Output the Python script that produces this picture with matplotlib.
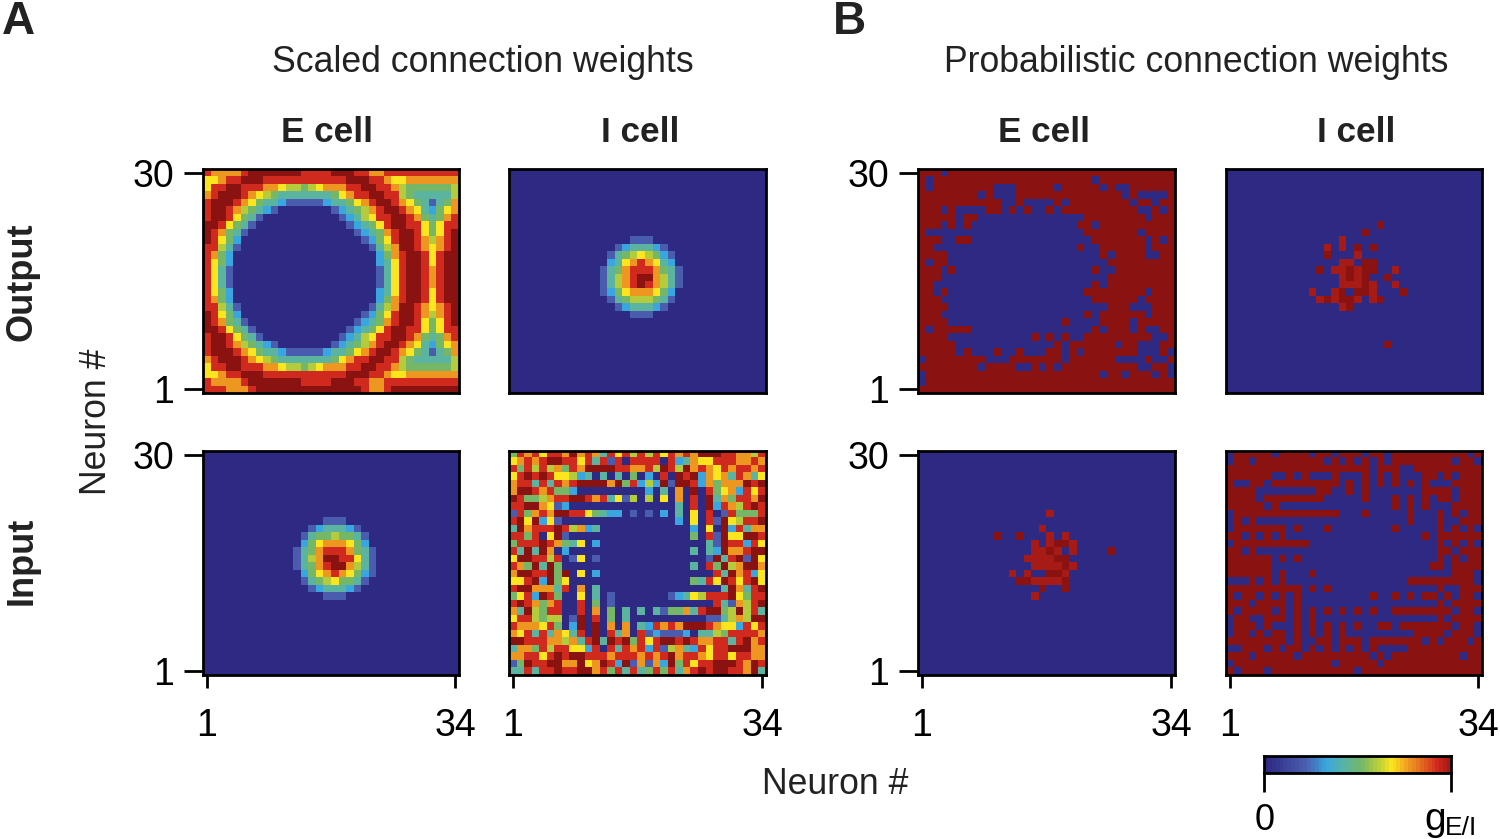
import numpy as np
import matplotlib
matplotlib.use('Agg')
import matplotlib.pyplot as plt
from matplotlib.colors import LinearSegmentedColormap

plt.rcParams['font.family'] = ['Liberation Sans', 'DejaVu Sans']

# cell values, one digit per cell (0 = none ... 9 = full), top row first
# r = the brighter red of the probabilistic panels
blank = "0000000000 0000000000 0000000000 0000"

scaled_e_output = [
    "8777789999 9998888999 8877888888 8888",
    "6678899988 8888888889 9988766777 7777",
    "6889988877 6554567778 8998875444 4445",
    "7899987654 3333333467 8899885433 3335",
    "8999876433 2111112334 6789987643 1347",
    "8998754321 0000000123 4578998763 2467",
    "8998643100 0000000012 3568899874 3478",
    "9986431000 0000000001 2346899886 4688",
    "9874310000 0000000000 1234789986 4689",
    "9864200000 0000000000 0124689987 5789",
    "8853100000 0000000000 0013579987 6789",
    "8742000000 0000000000 0002478998 6899",
    "8642000000 0000000000 0002368998 6899",
    "8631000000 0000000000 0001368998 7899",
    "8631000000 0000000000 0001368998 7899",
    "8631000000 0000000000 0001368998 7899",
    "8642000000 0000000000 0002368998 6899",
    "8742000000 0000000000 0002478998 6899",
    "8853100000 0000000000 0013579987 6789",
    "9864200000 0000000000 0124689987 5789",
    "9874310000 0000000000 1234789986 4689",
    "9986431000 0000000001 2346899886 4688",
    "8998643100 0000000012 3568899874 3478",
    "8998754321 0000000123 4578998763 2467",
    "8999876433 2111112334 6789987643 1347",
    "7899987654 3333333467 8899885433 3335",
    "6889988877 6554567778 8998875444 4445",
    "6678899988 8888888889 9988766777 7777",
    "8777789999 9998888999 8877888888 8888",
    "8887778999 9999999999 9877899999 9999",
]

scaled_i_output = [blank] * 9 + [
    "0000000000 0000001110 0000000000 0000",
    "0000000000 0000123332 1000000000 0000",
    "0000000000 0001345654 2100000000 0000",
    "0000000000 0002367876 3200000000 0000",
    "0000000000 0013478887 4310000000 0000",
    "0000000000 0013578997 5310000000 0000",
    "0000000000 0013578987 5310000000 0000",
    "0000000000 0012467776 4200000000 0000",
    "0000000000 0001345554 3100000000 0000",
    "0000000000 0000123332 1000000000 0000",
    "0000000000 0000001110 0000000000 0000",
] + [blank] * 10

scaled_e_input = [blank] * 9 + [
    "0000000000 0000001110 0000000000 0000",
    "0000000000 0000123332 1000000000 0000",
    "0000000000 0001344544 3100000000 0000",
    "0000000000 0002467776 4200000000 0000",
    "0000000000 0013478887 4310000000 0000",
    "0000000000 0013579988 6310000000 0000",
    "0000000000 0013478997 5310000000 0000",
    "0000000000 0002467876 4210000000 0000",
    "0000000000 0001345644 3100000000 0000",
    "0000000000 0000123332 1000000000 0000",
    "0000000000 0000001110 0000000000 0000",
] + [blank] * 10

scaled_i_input = [
    "4878688797 8738685858 6878799988 7758",
    "6787899886 8381808888 0823766888 7787",
    "8485857487 9999887785 9859787687 8878",
    "6898986652 3030304020 8098927673 8736",
    "7883838789 9997948252 9199827477 7989",
    "7998784420 0000000020 3070908467 2868",
    "9844578899 8783615050 6070809374 8879",
    "8899761200 0000000000 0030809287 5898",
    "1847879988 6432201010 2030608018 4448",
    "8969261000 0000000000 0020608196 5889",
    "3978889857 2300000000 0000206092 8377",
    "8848069100 0000000000 0000408196 6998",
    "4888987436 0200000000 0000003198 8286",
    "8393970200 0000000000 0000303297 7899",
    "6998858016 0100000000 0000001938 9196",
    "8749394000 0000000000 0000308495 7997",
    "7998894906 0200000000 0000000839 7826",
    "6689294600 0000000000 0000438698 6896",
    "8997773807 0300000000 0000000039 7389",
    "4682984006 0301000000 0123658889 6488",
    "8987478008 0401000000 0000000831 7589",
    "7395488008 0704030303 1447389945 9583",
    "6885455019 0804030000 0000001135 7599",
    "8777684029 0907070328 7879998766 2868",
    "7683837638 0908370812 1112033548 8887",
    "9988877573 8939894868 9989877883 8978",
    "3774858866 2808387828 1573286889 9977",
    "7788689899 8887888787 8978876886 8877",
    "1498899779 6798291717 2948688999 8798",
    "3383889889 9784838348 4837898998 8793",
]

prob_e_output = [
    "9990999999 9999999999 9999999999 9999",
    "9099999999 9999999999 9990999999 9999",
    "9099999999 0009999909 9999090099 9999",
    "9999999909 0009999999 9999999090 0009",
    "9999999999 9009000090 9999999909 9099",
    "9990900009 9090900909 9999999990 0909",
    "9999909900 0000000000 0099999999 0999",
    "9990909000 0000000000 0990999999 9999",
    "9000000000 0000000000 0099999990 9999",
    "9990099000 0000000000 0009999999 0909",
    "9900000000 0000000000 0900999999 0999",
    "9999000000 0000000000 0000909999 0099",
    "9099000000 0000000000 0000099999 9999",
    "9990900000 0000000000 0009009999 9999",
    "9990000000 0000000000 0000099999 9999",
    "9900000000 0000000000 0009099999 9999",
    "9909000000 0000000000 0099999999 0999",
    "9990000000 0000000000 0009999990 9999",
    "9999000000 0000000000 0000099900 0999",
    "9990000000 0000000000 0090999999 0999",
    "9999000000 0000000009 0000999909 9999",
    "9099999000 0000000000 0009099909 0099",
    "9999000000 0000090909 0099999999 9009",
    "9999900000 0000000090 9999990990 0099",
    "9999909000 9009000990 9099999990 0090",
    "0999999990 0099999990 9999990000 9009",
    "9999999909 9990090909 9999999990 0990",
    "0999999999 9999999999 9999099099 9090",
    "0999999999 9999999999 9999999999 9999",
    "9999999999 9999999999 9999999999 9999",
]

prob_i_output = [blank] * 7 + [
    "0000000000 0000000000 9000000000 0000",
    "0000000000 0000000090 0000000000 0000",
    "0000000000 00000r0000 0000000000 0000",
    "0000000000 000r0r0909 0000000000 0000",
    "0000000000 0009000r00 0000000000 0000",
    "0000000000 00000rr099 0000000000 0000",
    "0000000000 0090rr9r99 00r0000000 0000",
    "0000000000 00000r9r90 0900000000 0000",
    "0000000000 00000rrr9r 00r0000000 0000",
    "0000000000 0r00r9099r 0009000000 0000",
    "0000000000 00r9r99r0r 9000000000 0000",
    "0000000000 00000r9000 0000000000 0000",
] + [blank] * 4 + [
    "0000000000 0000000000 0900000000 0000",
] + [blank] * 6

prob_e_input = [blank] * 8 + [
    "0000000000 0000000r00 0000000000 0000",
    blank,
    "0000000000 000000r000 0000000000 0000",
    "0000000000 9009000r0r 0000000000 0000",
    "0000000000 00000r0r99 r000000000 0000",
    "0000000000 00000rr9r0 r000090000 0000",
    "0000000000 0000rrrr99 0000000000 0000",
    "0000000000 00000rrrr9 r000000000 0000",
    "0000000000 00r0r0099r 0000000000 0000",
    "0000000000 00099rrrr9 0000000000 0000",
    "0000000000 0000009009 0000000000 0000",
    "0000000000 00000r0000 0000000000 0000",
] + [blank] * 10

prob_i_input = [
    "0999990999 9099099909 9099999999 9909",
    "0990999999 9990909090 9099999999 0990",
    "9999999999 9999999990 9990099999 9999",
    "9999990090 9000900090 9090009909 0999",
    "9009909999 9999909090 9090909000 9999",
    "9999000000 0099009090 0000009999 0999",
    "9999099999 9990000090 0090909099 0999",
    "9999909000 0000000000 0090909000 9999",
    "0999999999 9999900090 0000900090 9099",
    "0909000000 0000000000 0000900090 0999",
    "0999999909 0009000000 0090000090 9090",
    "9909090900 0000000000 0000009099 9999",
    "0999999999 9000000000 0000000090 9090",
    "9909000000 0000000000 0000000099 0999",
    "9999990909 0000000000 0000000090 9099",
    "9999990000 0000000000 0000000990 9999",
    "9999990900 0900000000 0000000000 9990",
    "0009090900 0000000000 0000999999 9990",
    "9999999999 0909000000 0000000090 0999",
    "9099090909 0000000009 0090909909 0990",
    "9990999909 0000000000 0000000090 9999",
    "9099990909 0909090909 0099999999 0990",
    "0990099909 0900000000 0000000090 9999",
    "0999090009 0909090900 9909999999 0990",
    "0990909909 0909090000 0000099990 9990",
    "9999999909 0099099909 9999990909 9909",
    "0099909099 0909090909 0000999999 9999",
    "9990999990 9999999990 9099999999 9099",
    "0999999999 9999099999 0999999999 9999",
    "9099909999 9999999099 9999999999 9999",
]

level_pos = [0, 0.2, 0.32, 0.42, 0.5, 0.58, 0.66, 0.75, 0.9, 1]
level_col = ['#2e2a84', '#4a5cad', '#3aa8e0', '#5bb59f', '#74b768',
             '#b4cc3c', '#fde61e', '#ee9a22', '#d22a1e', '#8a1210']
cmap = LinearSegmentedColormap.from_list('weights', list(zip(level_pos, level_col)), N=256)
char_pos = {str(i): p for i, p in enumerate(level_pos)}
char_pos['r'] = 0.96

x_tick_labels = ['1', '34']
y_tick_labels = ['30', '1']


def to_grid(rows):
    return np.array([[char_pos[ch] for ch in r.replace(' ', '')] for r in rows])


W, H = 1500, 839
fig = plt.figure(figsize=(W / 100, H / 100), dpi=100)


def add_axes_px(x0, y0, x1, y1):
    return fig.add_axes([x0 / W, 1 - y1 / H, (x1 - x0) / W, (y1 - y0) / H])


def put_text(x, y, s, **kw):
    fig.text(x / W, 1 - y / H, s, ha='center', va='center', **kw)


# rows, frame in pixels, y ticks?, x ticks?
panels = [
    (scaled_e_output, 203, 169, 459, 393, True, False),
    (scaled_i_output, 509, 169, 766, 393, False, False),
    (prob_e_output, 918, 169, 1175, 393, True, False),
    (prob_i_output, 1226, 169, 1482, 393, False, False),
    (scaled_e_input, 203, 451, 459, 675, True, True),
    (scaled_i_input, 509, 451, 766, 675, False, True),
    (prob_e_input, 918, 451, 1175, 675, True, True),
    (prob_i_input, 1226, 451, 1482, 675, False, True),
]

for rows, x0, y0, x1, y1, show_y, show_x in panels:
    ax = add_axes_px(x0, y0, x1, y1)
    ax.imshow(to_grid(rows), cmap=cmap, vmin=0, vmax=1, aspect='auto', interpolation='nearest')
    for sp in ax.spines.values():
        sp.set_linewidth(2.0)
    if show_y:
        ax.set_yticks([0, 29], y_tick_labels)
        for lab in ax.get_yticklabels():
            lab.set_va('center_baseline')
    else:
        ax.set_yticks([])
    if show_x:
        ax.set_xticks([0, 33], x_tick_labels)
    else:
        ax.set_xticks([])
    ax.tick_params(axis='y', length=14, width=2.0, pad=7, labelsize=27)
    ax.tick_params(axis='x', length=9, width=2.0, pad=15, labelsize=27)

# color bar
cax = add_axes_px(1264, 756, 1451, 773)
cax.imshow(np.linspace(0, 0.96, 48)[None, :], cmap=cmap, vmin=0, vmax=1, aspect='auto')
for sp in cax.spines.values():
    sp.set_linewidth(2.0)
cax.set_yticks([])
cax.set_xticks([-0.5, 47.5], ['', ''])
cax.tick_params(axis='x', length=14, width=2.0)

# titles and labels
put_text(483, 62, 'Scaled connection weights', fontsize=25.7, color='#222222')
put_text(1196, 62, 'Probabilistic connection weights', fontsize=25.7, color='#222222')
for cx, label in [(327, 'E cell'), (640, 'I cell'), (1044, 'E cell'), (1356, 'I cell')]:
    put_text(cx, 133, label, fontsize=25.3, fontweight='bold', color='#222222')
put_text(18, 22, 'A', fontsize=33, fontweight='bold', color='#222222')
put_text(849, 22, 'B', fontsize=33, fontweight='bold', color='#222222')
put_text(22, 282, 'Output', fontsize=26, fontweight='bold', rotation=90, color='#222222')
put_text(22, 561, 'Input', fontsize=26, fontweight='bold', rotation=90, color='#222222')
put_text(97, 422, 'Neuron #', fontsize=25.7, rotation=90, color='#222222')
put_text(835, 785, 'Neuron #', fontsize=25.7, color='#222222')
put_text(1265, 821, '0', fontsize=26)
put_text(1435, 820, 'g', fontsize=28)
put_text(1461, 828, 'E/I', fontsize=19)

fig.savefig('out.png', dpi=100)
